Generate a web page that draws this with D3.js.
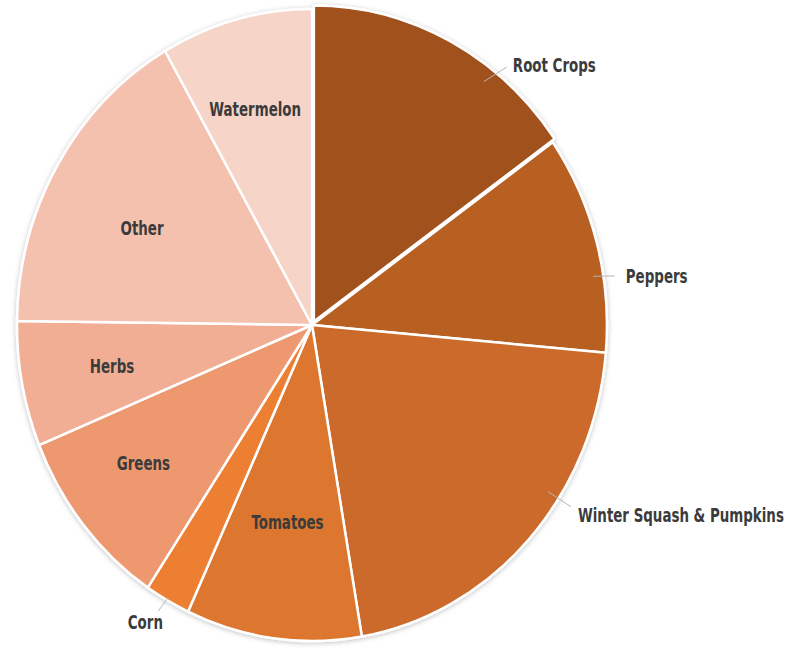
<!DOCTYPE html>
<html>
<head>
<meta charset="utf-8">
<script src="https://cdn.jsdelivr.net/npm/d3@7"></script>
<style>
  html, body { margin: 0; padding: 0; background: #ffffff; }
  svg { display: block; }
  text { font-family: "DejaVu Sans Condensed", "DejaVu Sans", sans-serif; font-stretch: condensed; font-weight: bold; fill: #3b3b3b; }
</style>
</head>
<body>
<svg id="chart" width="800" height="648"></svg>
<script>
// ---- data ----
const categories = ["Root Crops", "Peppers", "Winter Squash & Pumpkins", "Tomatoes", "Corn", "Greens", "Herbs", "Other", "Watermelon"];
const values = [15.2, 11.2, 20.9, 9.6, 2.5, 9.4, 6.4, 16.5, 8.3];
const colors = ["#A0511E", "#B85F23", "#CB6A29", "#DD762D", "#EC7F33", "#EE9870", "#F1AE94", "#F4C1AF", "#F6D4C8"];

// ---- layout ----
const cx = 312, cy = 325, rx = 295, ry = 316;
const fontSize = 19;
const targetWidthWS = 206; // width of the longest label in the reference
const explodePx = { "Root Crops": 4 };
const labelLayout = {
  "Root Crops": { out: true, angle: 39.6, r: 1.068, anchor: "start", lead: [37.1, 0.966], end: [-6, 2] },
  "Peppers": { out: true, angle: 81.7, r: 1.075, anchor: "start", lead: [80.8, 0.965], end: [-11, 0] },
  "Winter Squash & Pumpkins": { out: true, angle: 123.8, r: 1.085, anchor: "start", lead: [123.4, 0.958], end: [-7, -9] },
  "Tomatoes": { out: false, r: 0.63, da: 0 },
  "Corn": { out: true, angle: 211, r: 1.097, anchor: "middle", lead: [209.5, 0.99], end: [13, -11] },
  "Greens": { out: false, r: 0.72, da: 1.8 },
  "Herbs": { out: false, r: 0.69, da: 0 },
  "Other": { out: false, r: 0.652, da: -2.5 },
  "Watermelon": { out: false, r: 0.71, da: -0.8 }
};

const svg = d3.select("#chart");
const defs = svg.append("defs");
const f = defs.append("filter").attr("id", "shadow").attr("x", "-10%").attr("y", "-10%").attr("width", "120%").attr("height", "120%");
f.append("feDropShadow").attr("dx", 0).attr("dy", 1).attr("stdDeviation", 2.5).attr("flood-color", "#000").attr("flood-opacity", 0.25);

const pie = d3.pie().sort(null).value(d => d)(values);
const arc = d3.arc().innerRadius(0).outerRadius(1);

const toXY = (deg, k) => {
  const a = deg * Math.PI / 180;
  return [cx + rx * k * Math.sin(a), cy - ry * k * Math.cos(a)];
};

const pieG = svg.append("g").attr("filter", "url(#shadow)");
pie.forEach((p, i) => {
  const mid = (p.startAngle + p.endAngle) / 2;
  const e = explodePx[categories[i]] || 0;
  const g = pieG.append("g")
    .attr("transform", `translate(${cx + e * Math.sin(mid)},${cy - e * Math.cos(mid)}) scale(${rx},${ry})`);
  g.append("path")
    .attr("d", arc(p))
    .attr("fill", colors[i])
    .attr("stroke", "#ffffff")
    .attr("stroke-width", 2.5)
    .attr("stroke-linejoin", "round")
    .attr("vector-effect", "non-scaling-stroke");
});

// measure a horizontal condense factor so text widths match the reference
const probe = svg.append("text").attr("font-size", fontSize).text(categories[2]);
const sx = Math.min(1, targetWidthWS / probe.node().getComputedTextLength());
probe.remove();

const labG = svg.append("g");
function addText(x, y, anchor, name) {
  labG.append("g").attr("transform", `translate(${x},${y}) scale(${sx},1)`)
    .append("text").attr("dy", "0.35em").attr("text-anchor", anchor)
    .attr("font-size", fontSize).text(name);
}
pie.forEach((p, i) => {
  const name = categories[i];
  const L = labelLayout[name];
  const midDeg = ((p.startAngle + p.endAngle) / 2) * 180 / Math.PI;
  if (!L.out) {
    const [x, y] = toXY(midDeg + L.da, L.r);
    addText(x, y, "middle", name);
  } else {
    const [x, y] = toXY(L.angle, L.r);
    const [lx, ly] = toXY(L.lead[0], L.lead[1]);
    labG.append("line").attr("x1", lx).attr("y1", ly).attr("x2", x + L.end[0]).attr("y2", y + L.end[1])
      .attr("stroke", "#b5b5b5").attr("stroke-width", 1);
    addText(x, y, L.anchor, name);
  }
});
</script>
</body>
</html>
